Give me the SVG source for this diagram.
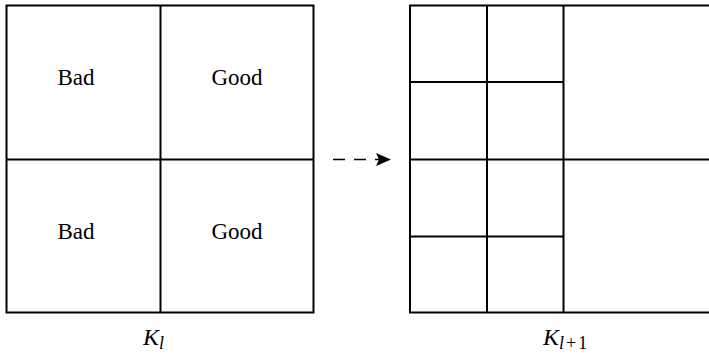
<svg xmlns="http://www.w3.org/2000/svg" width="709" height="353" viewBox="0 0 709 353">
<defs>
<style>
.ln{stroke:#000;stroke-width:2;fill:none}
.lbl{font-family:"Liberation Serif","Times New Roman",serif;font-size:23px;fill:#000;text-anchor:middle}
.k{font-family:"Liberation Serif","Times New Roman",serif;font-size:24px;font-style:italic;fill:#000}
.up{font-style:normal}
</style>
<marker id="ah" markerWidth="15" markerHeight="13" refX="15" refY="6.5" orient="auto" markerUnits="userSpaceOnUse">
<path d="M0,0 L15,6.5 L0,13 L3,6.5 Z" fill="#000"/>
</marker>
</defs>
<g id="left-grid">
<rect class="ln" x="6.5" y="5.5" width="307" height="307"/>
<line class="ln" x1="160.5" y1="5.5" x2="160.5" y2="312.5"/>
<line class="ln" x1="6.5" y1="159.5" x2="313.5" y2="159.5"/>
<text class="lbl" x="76" y="85">Bad</text>
<text class="lbl" x="237" y="85">Good</text>
<text class="lbl" x="76" y="239">Bad</text>
<text class="lbl" x="237" y="239">Good</text>
<text class="k" x="143" y="345">K<tspan font-size="18" dy="4">l</tspan></text>
</g>
<g id="right-grid">
<path class="ln" d="M712,5.5 H410 V312.5 H712"/>
<line class="ln" x1="487" y1="5.5" x2="487" y2="312.5"/>
<line class="ln" x1="563.5" y1="5.5" x2="563.5" y2="312.5"/>
<line class="ln" x1="410" y1="82" x2="563.5" y2="82"/>
<line class="ln" x1="410" y1="159.5" x2="712" y2="159.5"/>
<line class="ln" x1="410" y1="236.5" x2="563.5" y2="236.5"/>
<text class="k" x="543" y="345">K<tspan font-size="18" dy="4">l</tspan><tspan class="up" font-size="18" dx="2">+</tspan><tspan class="up" font-size="18" dx="2">1</tspan></text>
</g>
<g id="connectors">
<line x1="333" y1="159.5" x2="391" y2="159.5" stroke="#000" stroke-width="1.5" stroke-dasharray="12,9" marker-end="url(#ah)"/>
</g>
</svg>
